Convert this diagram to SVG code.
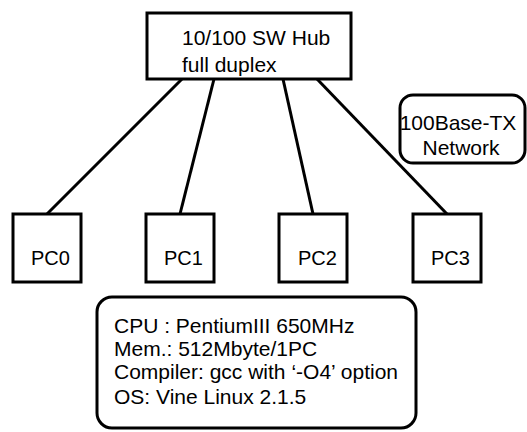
<svg xmlns="http://www.w3.org/2000/svg" width="527" height="432" viewBox="0 0 527 432">
<style>
.box{fill:#fff;stroke:#000;stroke-width:3}
.t{font-family:"Liberation Sans",Arial,sans-serif;font-size:21px;fill:#000}
.p{font-size:20px}
.conn line{stroke:#000;stroke-width:3}
</style>
<rect width="527" height="432" fill="#fff"/>
<g class="conn">
<line x1="182" y1="79" x2="47" y2="214"/>
<line x1="214" y1="79" x2="180" y2="214"/>
<line x1="283" y1="79" x2="313" y2="214"/>
<line x1="317" y1="79" x2="447" y2="214"/>
</g>
<g id="hub">
<rect class="box" x="147" y="13" width="204" height="66"/>
<text class="t" x="182" y="45">10/100 SW Hub</text>
<text class="t" x="182" y="72">full duplex</text>
</g>
<g id="network">
<rect class="box" x="400" y="95" width="125" height="68" rx="13"/>
<text class="t" x="458" y="130" text-anchor="middle">100Base-TX</text>
<text class="t" x="461" y="155" text-anchor="middle">Network</text>
</g>
<g id="pc0">
<rect class="box" x="13" y="214" width="68" height="68"/>
<text class="t p" x="31" y="265">PC0</text>
</g>
<g id="pc1">
<rect class="box" x="146" y="214" width="68" height="68"/>
<text class="t p" x="164" y="265">PC1</text>
</g>
<g id="pc2">
<rect class="box" x="279" y="214" width="68" height="68"/>
<text class="t p" x="298" y="265">PC2</text>
</g>
<g id="pc3">
<rect class="box" x="413" y="214" width="68" height="68"/>
<text class="t p" x="431" y="265">PC3</text>
</g>
<g id="spec">
<rect class="box" x="97" y="297" width="319" height="131" rx="15"/>
<text class="t" x="114" y="333">CPU : PentiumIII 650MHz</text>
<text class="t" x="114" y="356">Mem.: 512Mbyte/1PC</text>
<text class="t" x="114" y="379">Compiler: gcc with ‘-O4’ option</text>
<text class="t" x="114" y="404">OS: Vine Linux 2.1.5</text>
</g>
</svg>
